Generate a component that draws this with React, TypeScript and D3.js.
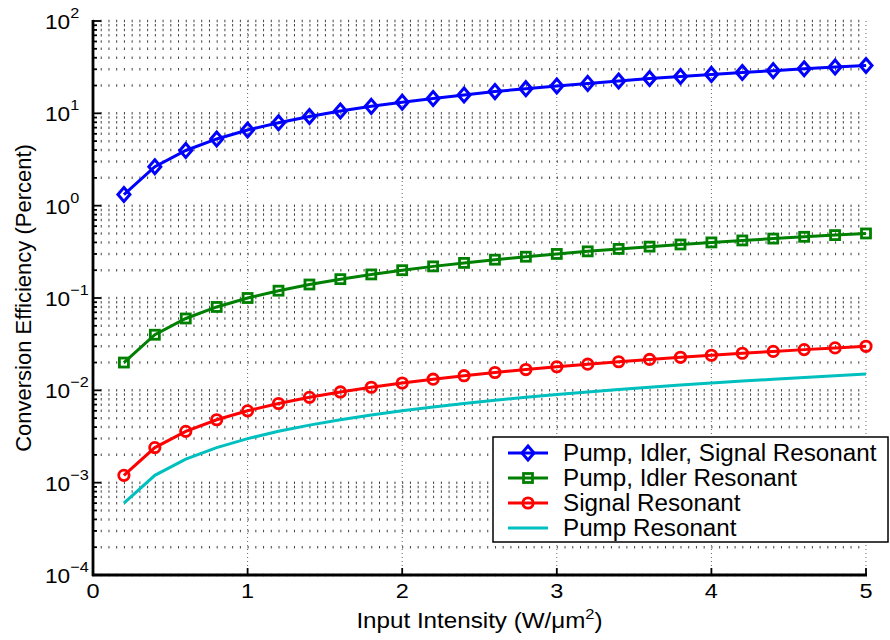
import React from "react";
import * as d3 from "d3";

const xValues = [0.2, 0.4, 0.6, 0.8, 1.0, 1.2, 1.4, 1.6, 1.8, 2.0, 2.2, 2.4, 2.6, 2.8, 3.0, 3.2, 3.4, 3.6, 3.8, 4.0, 4.2, 4.4, 4.6, 4.8, 5.0];
const pumpIdlerSignal = [1.32, 2.64, 3.96, 5.28, 6.6, 7.92, 9.24, 10.6, 11.9, 13.2, 14.5, 15.8, 17.2, 18.5, 19.8, 21.1, 22.4, 23.8, 25.1, 26.4, 27.7, 29.0, 30.4, 31.7, 33.0];
const pumpIdler = [0.02, 0.04, 0.06, 0.08, 0.1, 0.12, 0.14, 0.16, 0.18, 0.2, 0.22, 0.24, 0.26, 0.28, 0.3, 0.32, 0.34, 0.36, 0.38, 0.4, 0.42, 0.44, 0.46, 0.48, 0.5];
const signalRes = [0.0012, 0.0024, 0.0036, 0.0048, 0.006, 0.0072, 0.0084, 0.0096, 0.0108, 0.012, 0.0132, 0.0144, 0.0156, 0.0168, 0.018, 0.0192, 0.0204, 0.0216, 0.0228, 0.024, 0.0252, 0.0264, 0.0276, 0.0288, 0.03];
const pumpRes = [0.0006, 0.0012, 0.0018, 0.0024, 0.003, 0.0036, 0.0042, 0.0048, 0.0054, 0.006, 0.0066, 0.0072, 0.0078, 0.0084, 0.009, 0.0096, 0.0102, 0.0108, 0.0114, 0.012, 0.0126, 0.0132, 0.0138, 0.0144, 0.015];
const xTicks = [0, 1, 2, 3, 4, 5];
const yExponents = [-4, -3, -2, -1, 0, 1, 2];
const legendLabels = ["Pump, Idler, Signal Resonant", "Pump, Idler Resonant", "Signal Resonant", "Pump Resonant"];

const FONT = "'Liberation Sans', Arial, Helvetica, sans-serif";

export default function App() {
  const W = 890, H = 640;
  const left = 93, right = 866, top = 21, bottom = 575;
  const x = d3.scaleLinear().domain([0, 5]).range([left, right]);
  const y = d3.scaleLog().domain([1e-4, 1e2]).range([bottom, top]);

  const series = [
    { data: pumpIdlerSignal, color: "#0000ff", marker: "diamond", label: legendLabels[0] },
    { data: pumpIdler, color: "#008000", marker: "square", label: legendLabels[1] },
    { data: signalRes, color: "#ff0000", marker: "circle", label: legendLabels[2] },
    { data: pumpRes, color: "#00bfbf", marker: "none", label: legendLabels[3] },
  ];

  const line = d3.line<[number, number]>().x(d => x(d[0])).y(d => y(d[1]));

  const gridVals: number[] = [];
  for (let e = -4; e < 2; e++) {
    for (let m = 1; m <= 9; m++) gridVals.push(m * Math.pow(10, e));
  }
  gridVals.push(100);

  const marker = (type: string, cx: number, cy: number, color: string, key: any) => {
    if (type === "diamond") {
      return <path key={key} d={`M${cx},${cy - 7} L${cx + 6},${cy} L${cx},${cy + 7} L${cx - 6},${cy} Z`} fill="none" stroke={color} strokeWidth={3} />;
    }
    if (type === "square") {
      return <rect key={key} x={cx - 4.5} y={cy - 4.5} width={9} height={9} fill="none" stroke={color} strokeWidth={2.8} />;
    }
    if (type === "circle") {
      return <circle key={key} cx={cx} cy={cy} r={5.2} fill="none" stroke={color} strokeWidth={2.8} />;
    }
    return null;
  };

  const lx0 = 508, lx1 = 548, lmx = 528;
  const legendRowY = (i: number) => 453 + i * 25;

  return (
    <svg width={W} height={H} style={{ position: "absolute", left: 0, top: 0, background: "#fff" }} fontFamily={FONT}>
      <rect x={0} y={0} width={W} height={H} fill="#fff" />
      {gridVals.map((v, i) => (
        <line key={"hg" + i} x1={left} x2={right} y1={y(v)} y2={y(v)} stroke="#444" strokeWidth={2.5} strokeDasharray="1 6.73" />
      ))}
      {xTicks.slice(1).map(t => (
        <line key={"vg" + t} x1={x(t)} x2={x(t)} y1={top} y2={bottom} stroke="#666" strokeWidth={1} strokeDasharray="1 3" />
      ))}
      <line x1={left} x2={left} y1={top - 1} y2={bottom + 1} stroke="#000" strokeWidth={2.8} />
      <line x1={left - 1} x2={right + 1} y1={bottom} y2={bottom} stroke="#000" strokeWidth={2.8} />
      {gridVals.map((v, i) => {
        const isMajor = Math.abs(Math.log10(v) - Math.round(Math.log10(v))) < 1e-9;
        return <line key={"yt" + i} x1={left} x2={left + (isMajor ? 8 : 4)} y1={y(v)} y2={y(v)} stroke="#000" strokeWidth={1.8} />;
      })}
      {xTicks.map(t => (
        <line key={"xt" + t} x1={x(t)} x2={x(t)} y1={bottom} y2={bottom - 7} stroke="#000" strokeWidth={1.8} />
      ))}
      {yExponents.map(e => (
        <text key={"yl" + e} transform={`translate(45,${y(Math.pow(10, e)) + 8}) scale(1.08,1)`} fontSize={21} fill="#000">
          10<tspan fontSize={15} dy={-11}>{e < 0 ? "\u2212" + Math.abs(e) : String(e)}</tspan>
        </text>
      ))}
      {xTicks.map(t => (
        <text key={"xl" + t} transform={`translate(${x(t)},598) scale(1.12,1)`} fontSize={21} textAnchor="middle" fill="#000">{t}</text>
      ))}
      <text transform={`translate(${(left + right) / 2},628) scale(1.1,1)`} fontSize={22} textAnchor="middle" fill="#000">
        Input Intensity (W/{"\u03bc"}m<tspan fontSize={15} dy={-9}>2</tspan><tspan dy={9}>)</tspan>
      </text>
      <text transform={`translate(31,${(top + bottom) / 2}) rotate(-90)`} fontSize={22} textAnchor="middle" fill="#000">
        Conversion Efficiency (Percent)
      </text>
      {series.map((s, si) => {
        const pts: [number, number][] = xValues.map((xv, i) => [xv, s.data[i]]);
        return (
          <g key={"s" + si}>
            <path d={line(pts) || ""} fill="none" stroke={s.color} strokeWidth={3} />
            {pts.map((p, i) => marker(s.marker, x(p[0]), y(p[1]), s.color, i))}
          </g>
        );
      })}
      <rect x={493} y={437} width={395} height={105} fill="#fff" stroke="#000" strokeWidth={1.5} />
      {series.map((s, i) => (
        <g key={"lg" + i}>
          <line x1={lx0} x2={lx1} y1={legendRowY(i)} y2={legendRowY(i)} stroke={s.color} strokeWidth={3} />
          {marker(s.marker, lmx, legendRowY(i), s.color, "m" + i)}
          <text transform={`translate(563,${legendRowY(i) + 8}) scale(1.03,1)`} fontSize={23.5} fill="#000">{s.label}</text>
        </g>
      ))}
    </svg>
  );
}
